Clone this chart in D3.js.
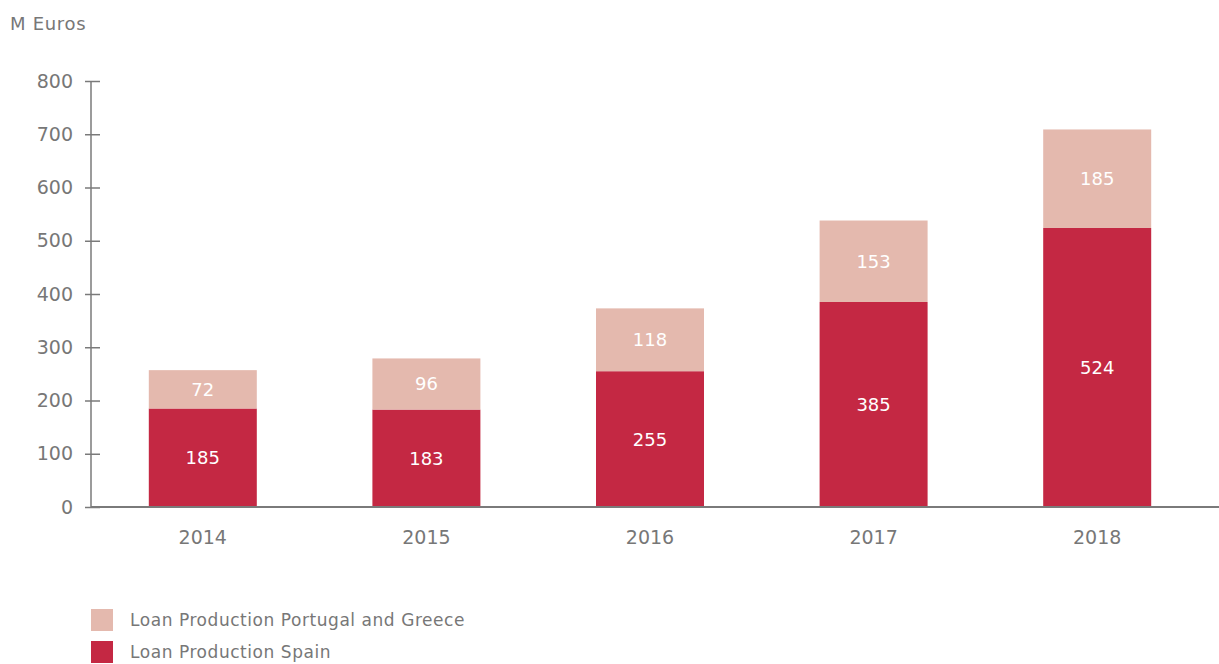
<!DOCTYPE html>
<html>
<head>
<meta charset="utf-8">
<script src="https://cdn.jsdelivr.net/npm/d3@7"></script>
<style>
  html, body { margin: 0; padding: 0; background: #fff; }
  svg { display: block; font-family: "DejaVu Sans", sans-serif; }
</style>
</head>
<body>
<svg id="chart" width="1219" height="664"></svg>
<script>
// Loan production by year, millions of euros
const years = ["2014", "2015", "2016", "2017", "2018"];
const spain = [185, 183, 255, 385, 524];
const portugalGreece = [72, 96, 118, 153, 185];
const yTicks = [0, 100, 200, 300, 400, 500, 600, 700, 800];
const seriesNames = ["Loan Production Portugal and Greece", "Loan Production Spain"];

const colorSpain = "#c42843";
const colorPG = "#e4b9ae";
const textGray = "#777777";
const axisGray = "#7a7a7a";
const fontFamily = "'DejaVu Sans', sans-serif";

const svg = d3.select("#chart");
const margin = { left: 91, right: 10, top: 81, bottom: 157 };
const width = 1219, height = 664;

const x = d3.scaleBand()
  .domain(years)
  .range([margin.left, width - margin.right])
  .paddingInner(0.517)
  .paddingOuter(0.2585);

const y = d3.scaleLinear()
  .domain([0, 800])
  .range([height - margin.bottom, margin.top]);

// Stack the two series: Spain at the bottom, Portugal and Greece on top
const rows = years.map((yr, i) => ({ year: yr, spain: spain[i], pg: portugalGreece[i] }));
const stack = d3.stack().keys(["spain", "pg"])(rows);
const fills = { spain: colorSpain, pg: colorPG };

const groups = svg.append("g").selectAll("g")
  .data(stack)
  .join("g")
  .attr("fill", d => fills[d.key]);

groups.selectAll("rect")
  .data(d => d)
  .join("rect")
  .attr("x", d => x(d.data.year))
  .attr("width", x.bandwidth())
  .attr("y", d => y(d[1]))
  .attr("height", d => y(d[0]) - y(d[1]));

// Value labels centred inside each segment
groups.selectAll("text")
  .data(d => d.map(s => ({ s, key: d.key })))
  .join("text")
  .attr("x", d => x(d.s.data.year) + x.bandwidth() / 2)
  .attr("y", d => (y(d.s[0]) + y(d.s[1])) / 2)
  .attr("dy", "0.36em")
  .attr("text-anchor", "middle")
  .attr("fill", "#ffffff")
  .attr("font-size", 18)
  .text(d => d.s.data[d.key]);

// Y axis
const yAxis = svg.append("g")
  .attr("transform", `translate(${margin.left},0)`)
  .call(d3.axisLeft(y).tickValues(yTicks).tickSize(6).tickPadding(12));
yAxis.select(".domain").attr("stroke", axisGray).attr("stroke-width", 1.5)
  .attr("d", `M0,${y(0)}V${y(800)}`);
yAxis.selectAll(".tick line")
  .attr("stroke", axisGray).attr("stroke-width", 1.5)
  .attr("x1", 9);
yAxis.selectAll(".tick text")
  .attr("fill", textGray).attr("font-size", 19)
  .attr("font-family", fontFamily);

// X baseline and year labels
svg.append("line")
  .attr("x1", margin.left).attr("x2", width)
  .attr("y1", y(0)).attr("y2", y(0))
  .attr("stroke", axisGray).attr("stroke-width", 2);

svg.append("g").selectAll("text")
  .data(years)
  .join("text")
  .attr("x", d => x(d) + x.bandwidth() / 2)
  .attr("y", y(0) + 30)
  .attr("dy", "0.36em")
  .attr("text-anchor", "middle")
  .attr("fill", textGray)
  .attr("font-size", 19)
  .text(d => d);

// Unit label
svg.append("text")
  .attr("x", 10).attr("y", 30)
  .attr("fill", textGray)
  .attr("font-size", 18)
  .attr("letter-spacing", 0.7)
  .text("M Euros");

// Legend
const legend = svg.append("g").selectAll("g")
  .data(seriesNames)
  .join("g")
  .attr("transform", (d, i) => `translate(91,${609 + i * 32})`);
legend.append("rect")
  .attr("width", 22).attr("height", 22)
  .attr("fill", (d, i) => i === 0 ? colorPG : colorSpain);
legend.append("text")
  .attr("x", 39).attr("y", 11).attr("dy", "0.36em")
  .attr("fill", textGray)
  .attr("font-size", 17)
  .attr("letter-spacing", 0.55)
  .text(d => d);
</script>
</body>
</html>
